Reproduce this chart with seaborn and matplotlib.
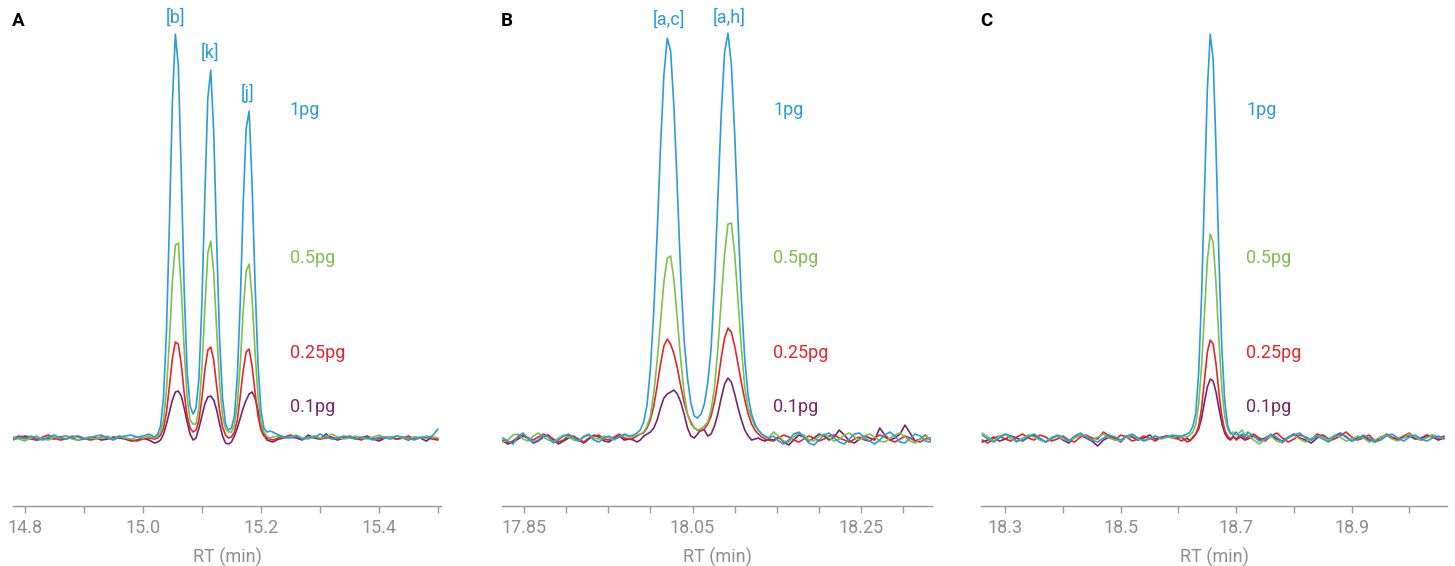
import numpy as np
import pandas as pd
import seaborn as sns
import matplotlib.pyplot as plt
from matplotlib.ticker import MultipleLocator, FixedLocator

# retention time grids (finer sampling around the peaks)
rt_a = np.round(np.r_[np.arange(14.78, 15.021, 0.01),
                      np.arange(15.025, 15.216, 0.005),
                      np.arange(15.22, 15.501, 0.01)], 3)
rt_b = np.round(np.r_[np.arange(17.825, 17.978, 0.006),
                      np.arange(17.98, 18.1405, 0.004),
                      np.arange(18.146, 18.3335, 0.006)], 3)
rt_c = np.round(np.r_[np.arange(18.26, 18.6005, 0.01),
                      np.arange(18.605, 18.7155, 0.005),
                      np.arange(18.72, 19.0605, 0.01)], 3)

amounts = ["0.1pg", "0.25pg", "0.5pg", "1pg"]

# panel A intensities (arbitrary units, baseline ~ 0)
a_1pg = [-2, 1, -1, 2, 0, -2, 1, 3, 0, -1, 2, 1, -1, 0, 2, 3, 0, -2, 1, 2, 3, 1, 2, 4, 1,
         4, 12, 41, 107, 216, 336, 404, 373, 266, 148, 66, 32, 24, 30, 60, 135, 243, 340, 368, 306,
         197, 98, 40, 14, 8, 10, 22, 62, 136, 235, 310, 327, 254, 155, 74, 28, 10, 6, 7,
         6, 3, 1, 0, 2, -1, 1, 0, 4, 1, -1, 0, 2, 1, -1, 1, 0, -2, 1, 0, -1, 2, 1, 0, -2, 1, 0, 2, 9]
a_05pg = [1, -1, -3, 0, 2, -1, -2, 1, 0, 2, -1, -2, 0, 1, -1, 0, 2, -1, 1, 0, -1, 1, 0, 2, 0,
          2, 6, 18, 48, 98, 157, 193, 195, 150, 88, 40, 18, 14, 14, 30, 70, 130, 185, 197, 165,
          108, 55, 22, 9, 6, 6, 13, 34, 74, 128, 167, 174, 140, 86, 42, 16, 6, 2, 0,
          1, 2, 0, 1, 3, 0, -1, 2, 0, 1, 4, 1, -1, 0, 2, 0, -1, 1, 3, 0, 1, 2, 0, -1, 1, 0, 2, 1, 0]
a_025pg = [0, 2, 1, -1, -2, 1, 3, 0, -2, -1, 1, 2, 0, -2, -1, 1, 0, -1, 2, 0, -2, -3, -1, 0, -1,
           0, 3, 10, 26, 52, 80, 96, 94, 74, 45, 22, 10, 6, 8, 18, 40, 68, 88, 91, 78,
           52, 27, 11, 3, 0, 1, 6, 18, 42, 68, 86, 89, 72, 46, 22, 8, 2, 0, -1,
           -2, 0, 1, 3, 1, -1, 0, 2, -1, 0, 1, -1, 0, 2, 0, -2, 1, 0, -1, 1, 0, -1, 0, 2, -1, 0, 1, -1, -2]
a_01pg = [-1, 0, 2, 1, -2, -1, 0, -1, 1, 2, 0, -2, -1, 1, 0, -2, -1, 1, 0, -1, -3, -2, 0, -2, -5,
          -4, -2, 4, 14, 26, 38, 46, 47, 42, 30, 16, 4, -2, 0, 10, 22, 34, 41, 42, 38,
          28, 14, 2, -5, -6, -4, 2, 10, 20, 30, 38, 44, 46, 40, 28, 14, 4, -2, -3,
          -4, -1, 0, 1, 0, -2, 3, 0, -1, 4, 0, -2, 0, 1, -1, 0, 2, -1, -3, 0, 1, -1, 0, -2, 1, 0, -3, 1, -1]

# panel B
b_1pg = [0, -3, -6, 2, 5, -1, -4, -2, 3, 1, -5, -2, 2, 4, 0, -3, 1, 3, -2, -4, 0, 2, -1, 1, 4, 2,
         3, 5, 8, 16, 33, 69, 127, 204, 291, 363, 400, 387, 330, 248, 163, 98, 60, 35, 22, 20,
         24, 34, 55, 89, 155, 239, 324, 386, 405, 374, 304, 217, 137, 78, 42, 24, 14, 8, 4, 2, 0,
         2, -3, -6, -2, 4, 6, 1, -5, -7, -2, 3, 5, 0, -4, -6, -1, 4, 5, 0, -3, -6, -2, 3, 6, 2, -4,
         -5, 0, 4, 2, -3, -4]
b_05pg = [-4, -2, 3, 4, -1, -3, 2, 5, 1, -2, -4, 0, 3, 1, -2, -3, 2, 4, 0, -1, 2, 0, -2, 1, 3, 1,
          2, 3, 4, 6, 12, 22, 45, 77, 116, 156, 180, 182, 158, 118, 78, 45, 24, 14, 10, 8,
          9, 12, 16, 28, 50, 89, 137, 184, 214, 215, 184, 137, 89, 50, 30, 20, 12, 8, 4, 1, 0,
          6, 2, -3, -4, 1, 5, 3, -2, -3, 2, 4, 0, -3, -1, 3, 5, 1, -2, 2, 4, 1, -3, -4, 0, 3, 5,
          1, -3, -5, -1, 2, -1]
b_025pg = [-2, -5, -3, 1, 3, 0, -2, 1, 4, 2, -1, -4, -2, 3, 1, -1, -4, 0, 2, 3, -1, -2, 1, 4, 0, -1,
           0, 2, 4, 5, 10, 18, 32, 52, 74, 92, 99, 94, 84, 70, 52, 36, 24, 16, 10, 8,
           7, 9, 14, 22, 36, 56, 80, 100, 110, 106, 92, 74, 55, 38, 24, 14, 8, 4, 1, -1, -2,
           -3, 0, 3, 1, -2, -4, -1, 2, 0, -3, -1, 2, 3, 0, -2, -4, -1, 1, -2, -3, 0, 3, 1, -2, -4, -1,
           2, 0, -3, -4, -1, 0]
b_01pg = [-3, -6, -4, -1, 2, 0, -5, -3, 1, 3, -2, -6, -3, 0, 2, -2, -5, -1, 3, 1, -3, -4, 0, 2, -2, -1,
          -2, -4, -2, 2, 4, 6, 10, 18, 30, 40, 44, 46, 48, 44, 36, 24, 10, 2, 0, 4,
          9, 8, 2, 4, 12, 24, 40, 54, 60, 56, 44, 30, 18, 8, 2, -2, -1, 0, -2, -3, -1,
          -2, 1, -4, -7, -2, 3, 1, -3, 0, 4, 2, -2, 1, 8, 3, -3, -5, -1, 2, 0, -2, 10, 3, -2, 0, 4,
          13, 5, -3, -1, 3, -2]

# panel C
c_1pg = [3, -1, -4, 0, 4, 2, -3, -2, 2, 4, 0, -4, -1, 3, 1, -3, 2, 5, 1, -2, -4, 0, 3, 1, -2, 2, 4, 0,
         -3, -1, 2, 0, 1, 3, 2,
         2, 3, 4, 6, 12, 25, 66, 142, 246, 349, 404, 379, 290, 181, 91, 38, 13, 5, 3, 6, 2, 4, 1,
         6, 2, -3, -1, 4, 1, -4, 0, 3, 5, 0, -2, 2, -1, -4, 1, 4, 2, -3, -1, 3, 0, -4, -2, 2, 4, 0,
         -3, 1, 3, -1, -3, 0, 2, -1]
c_05pg = [5, 1, -3, 2, 4, -1, -4, 0, 3, 1, -2, -4, 1, 2, -1, -3, 0, 3, 2, -2, 1, 4, 0, -2, -3, 1, 3,
          -1, -2, 0, 2, -1, 1, 0, 2,
          0, 2, 1, 3, 6, 14, 34, 72, 125, 178, 204, 196, 155, 98, 50, 22, 9, 4, 6, 3, 5, 8, 3,
          3, -2, -6, -1, 2, -3, -5, 1, 3, -1, -4, 0, 2, 1, -2, 3, 1, -3, -1, 2, 0, -4, -2, 1, 3, -1,
          -3, 0, 4, 1, -2, 0, 3, 1, 0]
c_025pg = [-2, -5, 0, 2, -1, -3, 1, 4, 0, -2, 3, 1, -3, -1, 2, -2, -4, 1, 3, 0, -1, 6, 2, -2, 3, 1,
           -3, -1, 2, 0, -3, 1, 2, 0, -1,
           -3, -1, -4, -2, 0, 4, 12, 30, 58, 86, 98, 94, 74, 46, 22, 8, 2, -1, 2, -2, 0, 3, -1,
           1, 4, 0, -3, 2, 5, 0, -4, -1, 3, 1, -2, 4, 2, -3, -1, 2, 6, 1, -2, 0, 3, -3, -2, 4, 1,
           -1, 2, 5, 0, -2, 1, 3, 0, 2]
c_01pg = [-4, -2, 1, -3, -1, 2, 0, -3, 1, 3, -1, -4, 0, 2, -2, -5, 1, 3, 0, -3, -8, -2, 1, 0, -4, 2,
          1, -2, 0, 3, -1, 0, 2, 1, 0,
          1, -2, 0, -3, 1, 4, 9, 20, 36, 51, 59, 57, 46, 30, 15, 5, 0, -2, 1, -1, 2, 0, -2,
          -1, 2, -2, 0, 3, -1, -3, 1, 4, 0, -2, -5, 0, 3, -1, 2, 5, 1, -3, 0, 2, -2, -4, 1, 3, 0,
          -2, 1, 2, -1, 0, 3, 1, -2, 0]

# peak annotations
peaks_a = [(15.056, 421, "[b]"), (15.114, 386, "[k]"), (15.178, 345, "[j]")]
peaks_b = [(18.022, 419, "[a,c]"), (18.093, 421, "[a,h]")]

palette = {"1pg": "#2b9cd8", "0.5pg": "#7fbf4d", "0.25pg": "#e2262b", "0.1pg": "#74266c"}
label_y = {"1pg": 328, "0.5pg": 180, "0.25pg": 85, "0.1pg": 31}
grey = "#8c8e92"

sns.set_theme(style="white")
plt.rcParams["font.family"] = ["Roboto", "DejaVu Sans"]

fig = plt.figure(figsize=(14.55, 5.66), dpi=100)

panels = [
    dict(letter="A", rt=rt_a, series=[a_01pg, a_025pg, a_05pg, a_1pg], xlim=(14.78, 15.505),
         major=[14.8, 15.0, 15.2, 15.4], minor=0.1, fmt="{:.1f}", peaks=peaks_a, label_x=15.249,
         rect=[13 / 1455, 0.106, 428 / 1455, 0.876]),
    dict(letter="B", rt=rt_b, series=[b_01pg, b_025pg, b_05pg, b_1pg], xlim=(17.824, 18.334),
         major=[17.85, 18.05, 18.25], minor=0.05, fmt="{:.2f}", peaks=peaks_b, label_x=18.146,
         rect=[502 / 1455, 0.106, 430 / 1455, 0.876]),
    dict(letter="C", rt=rt_c, series=[c_01pg, c_025pg, c_05pg, c_1pg], xlim=(18.258, 19.065),
         major=[18.3, 18.5, 18.7, 18.9], minor=0.1, fmt="{:.1f}", peaks=[], label_x=18.717,
         rect=[981 / 1455, 0.106, 466 / 1455, 0.876]),
]

for p in panels:
    ax = fig.add_axes(p["rect"])
    df = pd.concat([pd.DataFrame({"RT": p["rt"], "intensity": vals, "amount": name})
                    for name, vals in zip(amounts, p["series"])])
    sns.lineplot(data=df, x="RT", y="intensity", hue="amount", hue_order=amounts,
                 palette=palette, linewidth=1.2, estimator=None, legend=False, ax=ax)

    ax.set_xlim(*p["xlim"])
    ax.set_ylim(-68, 428)
    for side in ["left", "right", "top"]:
        ax.spines[side].set_visible(False)
    ax.spines["bottom"].set_color("#9a9b9e")
    ax.spines["bottom"].set_linewidth(1.0)
    ax.set_yticks([])
    ax.set_ylabel("")
    ax.xaxis.set_major_locator(FixedLocator(p["major"]))
    ax.set_xticklabels([p["fmt"].format(v) for v in p["major"]])
    ax.xaxis.set_minor_locator(MultipleLocator(p["minor"]))
    ax.tick_params(axis="x", which="both", direction="out", length=5, width=1.0,
                   color="#9a9b9e", labelcolor=grey, labelsize=13, pad=4, bottom=True)
    ax.set_xlabel("RT (min)", color=grey, fontsize=13, labelpad=8)

    for name in amounts:
        ax.text(p["label_x"], label_y[name], name, color=palette[name], fontsize=13,
                ha="left", va="center")
    for x, y, txt in p["peaks"]:
        ax.text(x, y, txt, color=palette["1pg"], fontsize=13, ha="center", va="center")

    fig.text(p["rect"][0] - 1 / 1455, 1 - 21 / 566, p["letter"], fontsize=13.5,
             fontweight="bold", color="black", ha="left", va="center")

fig.savefig("out.png", dpi=100)
